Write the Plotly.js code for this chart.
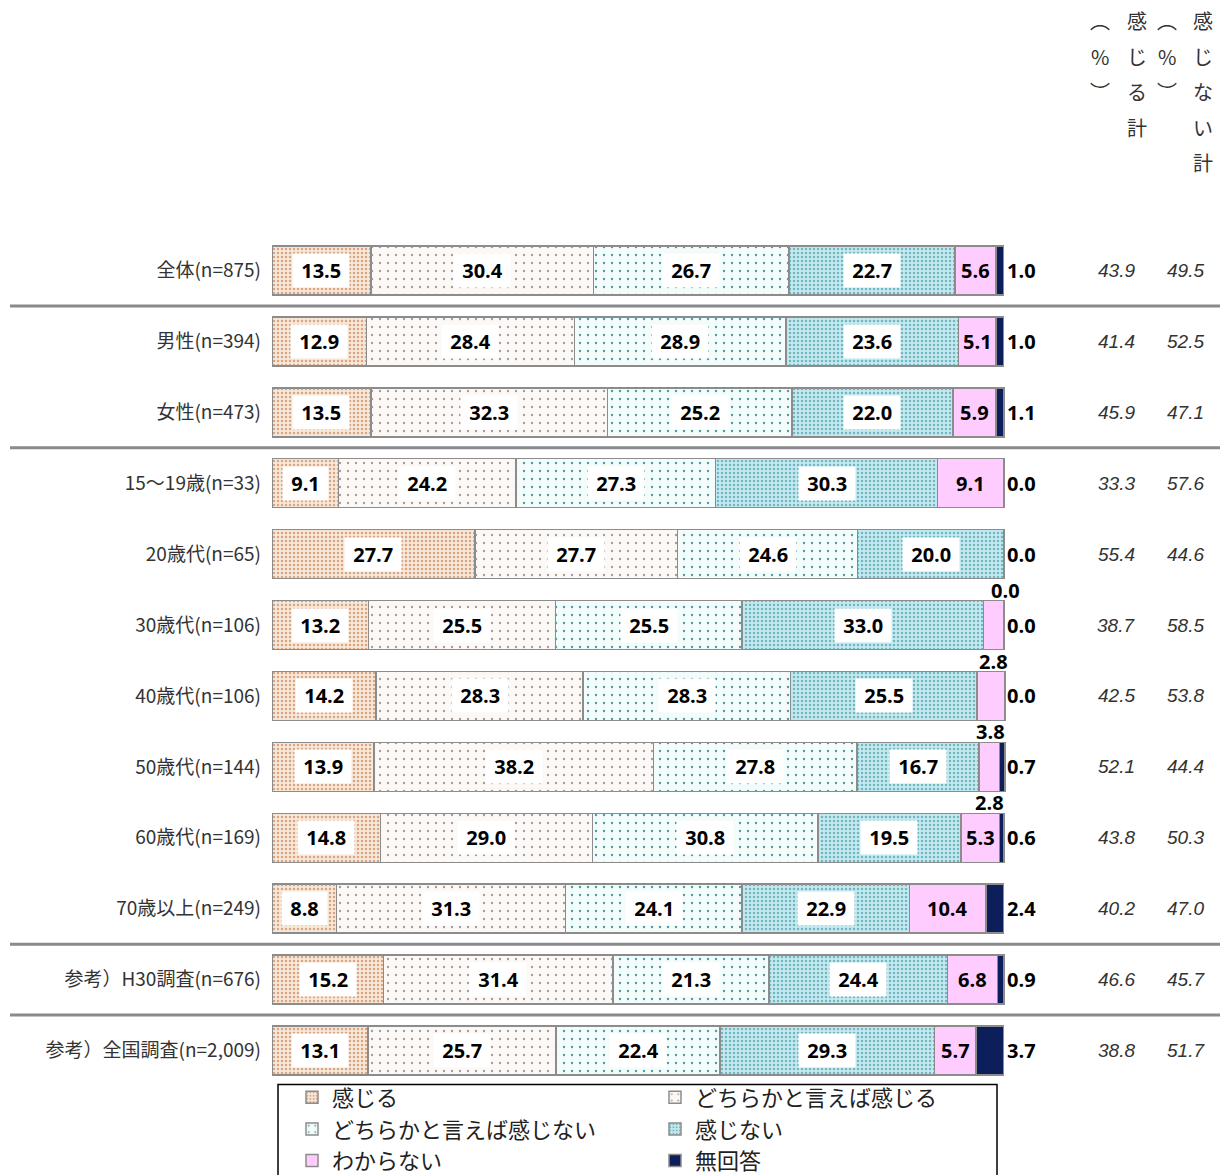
<!DOCTYPE html>
<html>
<head>
<meta charset="utf-8">
<script src="https://cdn.plot.ly/plotly-3.0.1.min.js"></script>
<style>
  body { margin: 0; background: #fff; }
  #plot { width: 1224px; height: 1175px; }
</style>
</head>
<body>
<div id="plot"></div>
<script>
const categories = [
  "全体(n=875)", "男性(n=394)", "女性(n=473)", "15～19歳(n=33)", "20歳代(n=65)",
  "30歳代(n=106)", "40歳代(n=106)", "50歳代(n=144)", "60歳代(n=169)",
  "70歳以上(n=249)", "参考）H30調査(n=676)", "参考）全国調査(n=2,009)"
];
const seriesNames = ["感じる", "どちらかと言えば感じる", "どちらかと言えば感じない", "感じない", "わからない", "無回答"];

const kanjiru     = [13.5, 12.9, 13.5, 9.1, 27.7, 13.2, 14.2, 13.9, 14.8, 8.8, 15.2, 13.1];
const yaKanjiru   = [30.4, 28.4, 32.3, 24.2, 27.7, 25.5, 28.3, 38.2, 29.0, 31.3, 31.4, 25.7];
const yaKanjinai  = [26.7, 28.9, 25.2, 27.3, 24.6, 25.5, 28.3, 27.8, 30.8, 24.1, 21.3, 22.4];
const kanjinai    = [22.7, 23.6, 22.0, 30.3, 20.0, 33.0, 25.5, 16.7, 19.5, 22.9, 24.4, 29.3];
const wakaranai   = [5.6, 5.1, 5.9, 9.1, 0.0, 2.8, 3.8, 2.8, 5.3, 10.4, 6.8, 5.7];
const mukaitou    = [1.0, 1.0, 1.1, 0.0, 0.0, 0.0, 0.0, 0.7, 0.6, 2.4, 0.9, 3.7];

const kanjiruTotal  = [43.9, 41.4, 45.9, 33.3, 55.4, 38.7, 42.5, 52.1, 43.8, 40.2, 46.6, 38.8];
const kanjinaiTotal = [49.5, 52.5, 47.1, 57.6, 44.6, 58.5, 53.8, 44.4, 50.3, 47.0, 45.7, 51.7];

// rows after which a separator line is drawn
const separatorsAfter = [0, 2, 9, 10];

const seriesValues = [kanjiru, yaKanjiru, yaKanjinai, kanjinai, wakaranai, mukaitou];

const styles = [
  { color: "#f8e8d8", pattern: { shape: ".", bgcolor: "#f8e8d8", fgcolor: "#d9a585", size: 4, solidity: 0.3 } },
  { color: "#fbf8f6", pattern: { shape: ".", bgcolor: "#fbf8f6", fgcolor: "#a69e9e", size: 8, solidity: 0.07 } },
  { color: "#f4fbfb", pattern: { shape: ".", bgcolor: "#f4fbfb", fgcolor: "#4a9fa0", size: 8, solidity: 0.07 } },
  { color: "#c4eaf0", pattern: { shape: ".", bgcolor: "#c4eaf0", fgcolor: "#72b6c2", size: 4, solidity: 0.3 } },
  { color: "#ffccff" },
  { color: "#0c1f5a" }
];

const data = seriesValues.map((vals, i) => ({
  type: "bar",
  orientation: "h",
  name: seriesNames[i],
  y: categories,
  x: vals,
  width: 0.69,
  marker: Object.assign({ line: { color: "#8c8c8c", width: 1.5 } }, styles[i]),
  hoverinfo: "skip"
}));

const annotations = [];
const labelFont = { family: "Open Sans, Noto Sans, sans-serif", size: 20, color: "#000", weight: 700 };

categories.forEach((cat, r) => {
  let start = 0;
  seriesValues.forEach((vals, s) => {
    const v = vals[r];
    const mid = start + v / 2;
    if (s < 4) {
      annotations.push({
        x: mid, y: cat, xref: "x", yref: "y",
        text: "&nbsp;<b>" + v.toFixed(1) + "</b>&nbsp;",
        showarrow: false, bgcolor: "#ffffff", borderpad: 3,
        font: labelFont
      });
    } else if (s === 4) {
      const small = v < 5;
      annotations.push({
        x: v === 0 ? start + 0.2 : mid, y: cat, xref: "x", yref: "y",
        text: "<b>" + v.toFixed(1) + "</b>",
        showarrow: false, yshift: small ? -36 : 0,
        font: labelFont
      });
    } else {
      annotations.push({
        x: 100, y: cat, xref: "x", yref: "y",
        text: "<b>" + v.toFixed(1) + "</b>",
        showarrow: false, xanchor: "left", xshift: 1,
        font: labelFont
      });
    }
    start += v;
  });

  annotations.push({
    x: 115.3, y: cat, xref: "x", yref: "y",
    text: "<i>" + kanjiruTotal[r].toFixed(1) + "</i>",
    showarrow: false,
    font: { family: "Liberation Sans, Arial, sans-serif", size: 19, color: "#333" }
  });
  annotations.push({
    x: 124.8, y: cat, xref: "x", yref: "y",
    text: "<i>" + kanjinaiTotal[r].toFixed(1) + "</i>",
    showarrow: false,
    font: { family: "Liberation Sans, Arial, sans-serif", size: 19, color: "#333" }
  });
});

// vertical column headers
const headerCols = [
  { x: 113.1, chars: ["︵", "%", "︶"] },
  { x: 118.2, chars: ["感", "じ", "る", "計"] },
  { x: 122.3, chars: ["︵", "%", "︶"] },
  { x: 127.2, chars: ["感", "じ", "な", "い", "計"] }
];
const H = 1175, plotTop = 234.5, plotBottom = 1086.5;
const toPaperY = py => (plotBottom - py) / (plotBottom - plotTop);
headerCols.forEach(col => {
  col.chars.forEach((ch, k) => {
    annotations.push({
      x: col.x, y: toPaperY(20 + k * 35.5), xref: "x", yref: "paper",
      yanchor: "middle",
      text: ch, showarrow: false,
      font: { family: "Noto Sans CJK JP, sans-serif", size: 20, color: "#333" }
    });
  });
});

const plotLeft = 272, plotRight = 1220;
const toPaperX = px => (px - plotLeft) / (plotRight - plotLeft);

const shapes = separatorsAfter.map(r => ({
  type: "line", xref: "paper", yref: "y",
  x0: toPaperX(10), x1: toPaperX(1220),
  y0: r + 0.5, y1: r + 0.5,
  line: { color: "#8a8a8a", width: 3 }
}));
shapes.push({
  type: "rect", xref: "paper", yref: "paper",
  x0: toPaperX(278), x1: toPaperX(997),
  y0: toPaperY(1185), y1: toPaperY(1085),
  line: { color: "#000", width: 1.5 }, fillcolor: "rgba(0,0,0,0)"
});

const layout = {
  width: 1224,
  height: H,
  margin: { l: plotLeft, r: 1224 - plotRight, t: plotTop, b: H - plotBottom, autoexpand: false },
  barmode: "stack",
  bargap: 0.31,
  paper_bgcolor: "#fff",
  plot_bgcolor: "#fff",
  font: { family: "Noto Sans CJK JP, sans-serif", color: "#333" },
  xaxis: {
    range: [0, 129.5], showgrid: false, zeroline: false, showticklabels: false, fixedrange: true
  },
  yaxis: {
    autorange: "reversed", showgrid: false, zeroline: false, ticks: "",
    ticklabelstandoff: 10,
    tickfont: { family: "Noto Sans CJK JP, sans-serif", size: 19, color: "#333" }
  },
  showlegend: true,
  legend: {
    orientation: "h",
    x: toPaperX(292), xanchor: "left",
    y: toPaperY(1077), yanchor: "top",
    entrywidth: 318,
    itemwidth: 30,
    bgcolor: "rgba(0,0,0,0)",
    traceorder: "normal",
    itemclick: false,
    tracegroupgap: 0,
    font: { family: "Noto Sans CJK JP, sans-serif", size: 22, color: "#222" }
  },
  annotations: annotations,
  shapes: shapes
};

Plotly.newPlot("plot", data, layout, { displayModeBar: false, staticPlot: true });
</script>
</body>
</html>
